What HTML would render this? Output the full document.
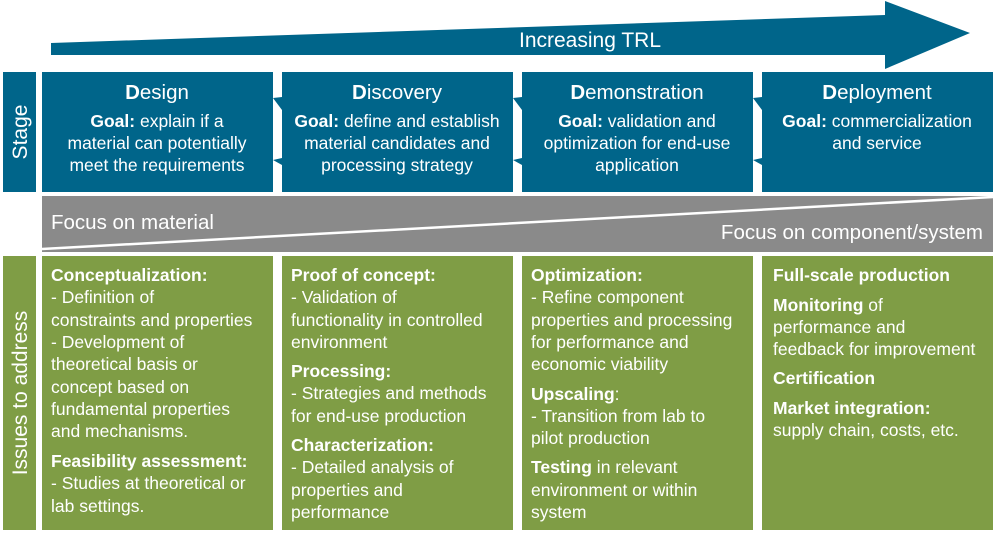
<!DOCTYPE html>
<html><head><meta charset="utf-8"><style>
html,body{margin:0;padding:0;background:#fff;}
svg{display:block}
text{font-family:"Liberation Sans",sans-serif;fill:#fff}
.t{font-size:17.5px}
.b{font-weight:bold}
</style></head><body>
<svg width="1000" height="534" viewBox="0 0 1000 534" xmlns="http://www.w3.org/2000/svg">
<polygon points="51,43 885,15 885,1 970,33 885,69 885,55 51,55" fill="#00658a"/>
<text x="590" y="47" font-size="21" text-anchor="middle">Increasing TRL</text>
<rect x="3" y="72" width="33" height="120" fill="#00658a"/>
<text transform="translate(27,132) rotate(-90)" font-size="21" text-anchor="middle">Stage</text>
<g fill="#00658a">
<rect x="42" y="72" width="231" height="120"/>
<polygon points="282,72 513,72 513,192 282,192 282,165 273,160 282,158 282,110 273,98 282,97"/>
<polygon points="522,72 753,72 753,192 522,192 522,165 513,160 522,158 522,110 513,98 522,97"/>
<polygon points="762,72 993,72 993,192 762,192 762,165 753,160 762,158 762,110 753,98 762,97"/>
</g>
<g font-size="20.5" text-anchor="middle">
<text x="157" y="99"><tspan class="b">D</tspan>esign</text>
<text x="397" y="99"><tspan class="b">D</tspan>iscovery</text>
<text x="637" y="99"><tspan class="b">D</tspan>emonstration</text>
<text x="877" y="99"><tspan class="b">D</tspan>eployment</text>
</g>
<g class="t" text-anchor="middle">
<text x="157" y="127"><tspan class="b">Goal:</tspan> explain if a</text>
<text x="157" y="149">material can potentially</text>
<text x="157" y="171">meet the requirements</text>
<text x="397" y="127"><tspan class="b">Goal:</tspan> define and establish</text>
<text x="397" y="149">material candidates and</text>
<text x="397" y="171">processing strategy</text>
<text x="637" y="127"><tspan class="b">Goal:</tspan> validation and</text>
<text x="637" y="149">optimization for end-use</text>
<text x="637" y="171">application</text>
<text x="877" y="127"><tspan class="b">Goal:</tspan> commercialization</text>
<text x="877" y="149">and service</text>
</g>
<rect x="42" y="196" width="951" height="56" fill="#8a8a8a"/>
<line x1="42" y1="249" x2="993" y2="197" stroke="#fff" stroke-width="2.5"/>
<text x="51" y="229" font-size="20.5">Focus on material</text>
<text x="983" y="239" font-size="20.5" text-anchor="end">Focus on component/system</text>
<rect x="3" y="256" width="33" height="274" fill="#7f9d45"/>
<text transform="translate(27,393) rotate(-90)" font-size="21" text-anchor="middle">Issues to address</text>
<g fill="#7f9d45">
<rect x="42" y="256" width="231" height="274"/>
<rect x="282" y="256" width="231" height="274"/>
<rect x="522" y="256" width="231" height="274"/>
<rect x="762" y="256" width="231" height="274"/>
</g>
<g class="t">
<text x="51" y="281" class="b">Conceptualization:</text>
<text x="51" y="303">- Definition of</text>
<text x="51" y="326">constraints and properties</text>
<text x="51" y="348">- Development of</text>
<text x="51" y="370">theoretical basis or</text>
<text x="51" y="393">concept based on</text>
<text x="51" y="415">fundamental properties</text>
<text x="51" y="437">and mechanisms.</text>
<text x="51" y="467" class="b">Feasibility assessment:</text>
<text x="51" y="489">- Studies at theoretical or</text>
<text x="51" y="512">lab settings.</text>

<text x="291" y="281" class="b">Proof of concept:</text>
<text x="291" y="303">- Validation of</text>
<text x="291" y="326">functionality in controlled</text>
<text x="291" y="348">environment</text>
<text x="291" y="377" class="b">Processing:</text>
<text x="291" y="399">- Strategies and methods</text>
<text x="291" y="422">for end-use production</text>
<text x="291" y="451" class="b">Characterization:</text>
<text x="291" y="473">- Detailed analysis of</text>
<text x="291" y="496">properties and</text>
<text x="291" y="518">performance</text>

<text x="531" y="281" class="b">Optimization:</text>
<text x="531" y="303">- Refine component</text>
<text x="531" y="326">properties and processing</text>
<text x="531" y="348">for performance and</text>
<text x="531" y="370">economic viability</text>
<text x="531" y="400"><tspan class="b">Upscaling</tspan>:</text>
<text x="531" y="422">- Transition from lab to</text>
<text x="531" y="444">pilot production</text>
<text x="531" y="473"><tspan class="b">Testing</tspan> in relevant</text>
<text x="531" y="496">environment or within</text>
<text x="531" y="518">system</text>

<text x="773" y="281" class="b">Full-scale production</text>
<text x="773" y="311"><tspan class="b">Monitoring</tspan> of</text>
<text x="773" y="333">performance and</text>
<text x="773" y="355">feedback for improvement</text>
<text x="773" y="384" class="b">Certification</text>
<text x="773" y="414" class="b">Market integration:</text>
<text x="773" y="436">supply chain, costs, etc.</text>
</g>
</svg>
</body></html>
